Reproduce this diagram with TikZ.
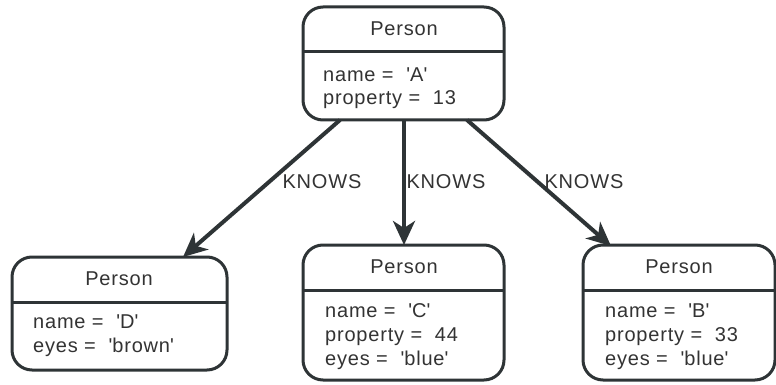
\documentclass[tikz,border=0pt]{standalone}
\usepackage{fontspec}
\setmainfont{Liberation Sans}[LetterSpace=4]
\usetikzlibrary{arrows.meta,calc}
\definecolor{ink}{HTML}{2E3436}
\definecolor{txt}{HTML}{333333}
\newcommand{\q}{\textquotesingle}
\tikzset{
  box/.style={draw=ink, line width=3pt, rounded corners=20pt, fill=white},
  divider/.style={draw=ink, line width=3pt},
  rel/.style={draw=ink, line width=4pt, -{Stealth[length=24pt,width=22pt,inset=7pt]}},
  title/.style={text=txt, inner sep=0pt, anchor=base, font=\fontsize{20}{24}\selectfont},
  prop/.style={text=txt, inner sep=0pt, anchor=base west, font=\fontsize{20}{24}\selectfont},
  lbl/.style={text=txt, inner sep=0pt, font=\fontsize{20}{24}\selectfont},
}
\begin{document}
\begin{tikzpicture}[x=1pt,y=-1pt]
\useasboundingbox (0,0) rectangle (776,385);
% boxes
\draw[box] (303,7) rectangle (504,120);
\draw[divider] (303,52) -- (504,52);
\draw[box] (12,257) rectangle (227,370);
\draw[divider] (12,302) -- (227,302);
\draw[box] (303,245) rectangle (504,380);
\draw[divider] (303,290) -- (504,290);
\draw[box] (583,245) rectangle (775,380);
\draw[divider] (583,290) -- (775,290);
% named anchor points
\coordinate (A1) at (340,120);
\coordinate (A2) at (404,120);
\coordinate (A3) at (467,120);
\coordinate (Dt) at (183,257);
\coordinate (Ct) at (404,245);
\coordinate (Bt) at (611,246);
% texts
\node[title] (tA) at (404,36) {Person};
\node[prop] (pA1) at (323,82) {name = \ \q A\q};
\node[prop] (pA2) at (323,105) {property = \ 13};
\node[title] (tD) at (119,285) {Person};
\node[prop] (pD1) at (33,328) {name = \ \q D\q};
\node[prop] (pD2) at (33,352) {eyes = \ \q brown\q};
\node[title] (tC) at (404,273) {Person};
\node[prop] (pC1) at (325,317) {name = \ \q C\q};
\node[prop] (pC2) at (325,341) {property = \ 44};
\node[prop] (pC3) at (325,365) {eyes = \ \q blue\q};
\node[title] (tB) at (679,273) {Person};
\node[prop] (pB1) at (605,317) {name = \ \q B\q};
\node[prop] (pB2) at (605,341) {property = \ 33};
\node[prop] (pB3) at (605,365) {eyes = \ \q blue\q};
% relationships
\draw[rel] (A1) -- (Dt);
\draw[rel] (A2) -- (Ct);
\draw[rel] (A3) -- (Bt);
\node[lbl] (k1) at (322,182) {KNOWS};
\node[lbl] (k2) at (446,182) {KNOWS};
\node[lbl] (k3) at (584,182) {KNOWS};
\end{tikzpicture}
\end{document}
